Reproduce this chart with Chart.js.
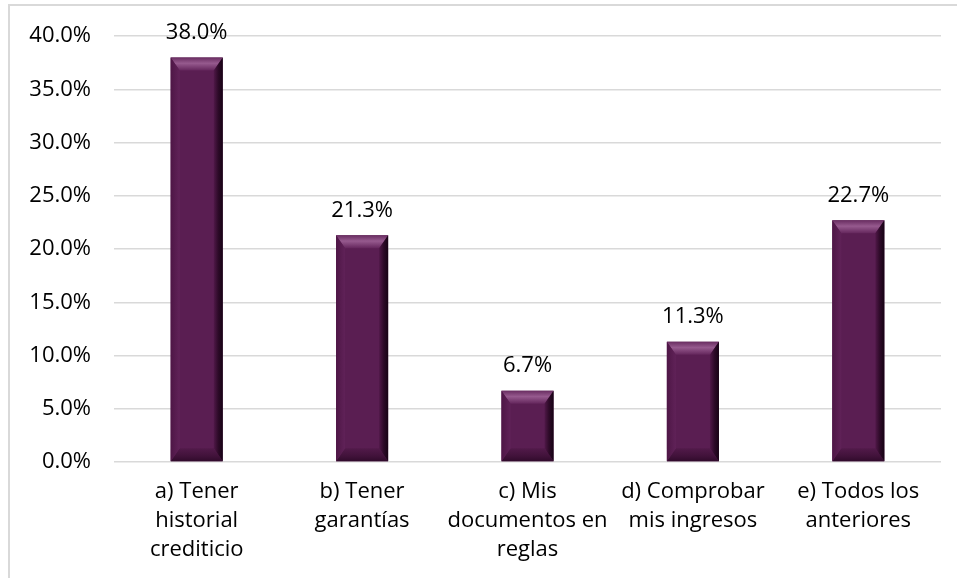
<!DOCTYPE html>
<html>
<head>
<meta charset="utf-8">
<script src="https://cdn.jsdelivr.net/npm/chart.js@4"></script>
<style>
  html, body { margin: 0; padding: 0; background: #ffffff; }
  #wrap { position: relative; width: 957px; height: 578px; overflow: hidden; }
  #frame { position: absolute; left: 8px; top: 4px; width: 960px; height: 590px;
           border-left: 2px solid #d9d9d9; border-top: 2px solid #d9d9d9; box-sizing: border-box; }
  canvas { position: absolute; left: 0; top: 0; }
</style>
</head>
<body>
<div id="wrap">
  <div id="frame"></div>
  <canvas id="c" width="957" height="578"></canvas>
</div>
<script>
const categories = [
  ["a) Tener", "historial", "crediticio"],
  ["b) Tener", "garantías"],
  ["c) Mis", "documentos en", "reglas"],
  ["d) Comprobar", "mis ingresos"],
  ["e) Todos los", "anteriores"]
];
const values = [38.0, 21.3, 6.7, 11.3, 22.7];
const yTicks = [0, 5, 10, 15, 20, 25, 30, 35, 40];

const FONT = "'Open Sans', 'Noto Sans', sans-serif";
const FACE = "rgb(90,30,82)";

const bevelPlugin = {
  id: 'bevel',
  afterDatasetsDraw(chart) {
    const ctx = chart.ctx;
    const meta = chart.getDatasetMeta(0);
    meta.data.forEach((bar) => {
      const p = bar.getProps(['x', 'y', 'base', 'width'], true);
      const l = p.x - p.width / 2, r = p.x + p.width / 2;
      const t = Math.min(p.y, p.base), bt = Math.max(p.y, p.base);
      const h = bt - t;
      const bv = Math.min(13, h / 2);
      const bs = Math.min(9, p.width / 4);
      ctx.save();
      // top
      let g = ctx.createLinearGradient(0, t, 0, t + bv);
      g.addColorStop(0, 'rgb(105,45,97)');
      g.addColorStop(0.45, 'rgb(150,90,142)');
      g.addColorStop(1, 'rgb(100,38,92)');
      ctx.fillStyle = g;
      ctx.beginPath();
      ctx.moveTo(l, t); ctx.lineTo(r, t); ctx.lineTo(r - bs, t + bv); ctx.lineTo(l + bs, t + bv); ctx.closePath();
      ctx.fill();
      // bottom
      g = ctx.createLinearGradient(0, bt - bv, 0, bt);
      g.addColorStop(0, 'rgb(82,26,74)');
      g.addColorStop(0.6, 'rgb(65,18,58)');
      g.addColorStop(1, 'rgb(48,10,43)');
      ctx.fillStyle = g;
      ctx.beginPath();
      ctx.moveTo(l, bt); ctx.lineTo(r, bt); ctx.lineTo(r - bs, bt - bv); ctx.lineTo(l + bs, bt - bv); ctx.closePath();
      ctx.fill();
      // left
      g = ctx.createLinearGradient(l, 0, l + bs, 0);
      g.addColorStop(0, 'rgb(78,22,70)');
      g.addColorStop(1, 'rgb(96,34,88)');
      ctx.fillStyle = g;
      ctx.beginPath();
      ctx.moveTo(l, t); ctx.lineTo(l + bs, t + bv); ctx.lineTo(l + bs, bt - bv); ctx.lineTo(l, bt); ctx.closePath();
      ctx.fill();
      // right
      g = ctx.createLinearGradient(r - bs, 0, r, 0);
      g.addColorStop(0, 'rgb(80,24,72)');
      g.addColorStop(0.5, 'rgb(45,10,40)');
      g.addColorStop(1, 'rgb(22,3,20)');
      ctx.fillStyle = g;
      ctx.beginPath();
      ctx.moveTo(r, t); ctx.lineTo(r - bs, t + bv); ctx.lineTo(r - bs, bt - bv); ctx.lineTo(r, bt); ctx.closePath();
      ctx.fill();
      ctx.restore();
    });
  },
  afterDraw(chart) {
    const ctx = chart.ctx;
    const meta = chart.getDatasetMeta(0);
    ctx.save();
    ctx.font = "22px " + FONT;
    ctx.fillStyle = '#000000';
    ctx.textAlign = 'center';
    ctx.textBaseline = 'middle';
    meta.data.forEach((bar, i) => {
      ctx.fillText(values[i].toFixed(1) + '%', bar.x, bar.y - 25);
    });
    ctx.restore();
  }
};

new Chart(document.getElementById('c'), {
  type: 'bar',
  data: {
    labels: categories,
    datasets: [{
      data: values,
      backgroundColor: FACE,
      borderWidth: 0,
      categoryPercentage: 1,
      barPercentage: 0.315
    }]
  },
  options: {
    responsive: false,
    animation: false,
    devicePixelRatio: 1,
    layout: { padding: { top: 35, right: 16, left: 0, bottom: 0 } },
    plugins: { legend: { display: false }, tooltip: { enabled: false } },
    scales: {
      x: {
        grid: { display: false, drawTicks: false },
        border: { display: false },
        ticks: { color: '#000000', font: { size: 22, family: FONT, lineHeight: 1.32 }, padding: 15, maxRotation: 0, autoSkip: false },
        afterFit(s) { s.height = 116; }
      },
      y: {
        min: 0, max: 40,
        afterBuildTicks(s) { s.ticks = yTicks.map(v => ({ value: v })); },
        grid: { color: '#d9d9d9', lineWidth: 1.5, drawTicks: false },
        border: { display: false },
        ticks: { color: '#000000', font: { size: 22, family: FONT }, padding: 23,
                 callback: v => Number(v).toFixed(1) + '%' },
        afterFit(s) { s.width = 114; }
      }
    }
  },
  plugins: [bevelPlugin]
});
</script>
</body>
</html>
